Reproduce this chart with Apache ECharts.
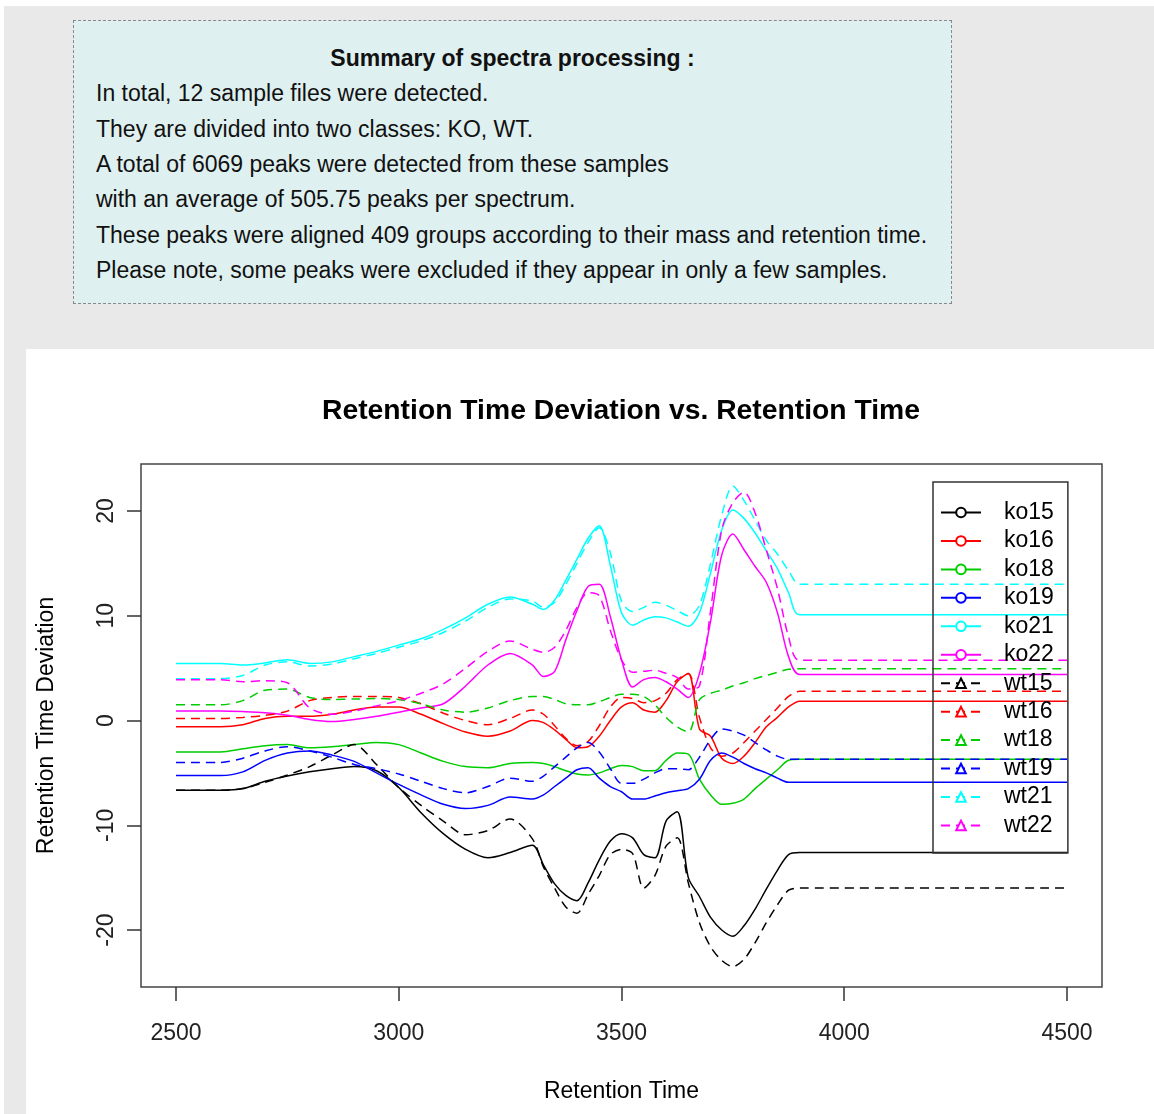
<!DOCTYPE html>
<html><head><meta charset="utf-8">
<script src="https://cdn.jsdelivr.net/npm/echarts@6/dist/echarts.min.js"></script>
<style>
html,body{margin:0;padding:0;background:#fff;width:1154px;height:1114px;overflow:hidden;font-family:'Liberation Sans',Arial,sans-serif;}
#bg{position:absolute;left:4px;top:6px;width:1150px;height:1108px;background:#e9e9e9;}
#summary{position:absolute;left:73px;top:20px;width:877px;height:282px;background:#dff0f0;border:1px dashed #888;box-sizing:content-box;}
#summary .t{position:absolute;left:0;width:100%;text-align:center;font-weight:bold;font-size:23px;color:#111;}
#summary .l{position:absolute;left:22px;font-size:23px;color:#111;white-space:nowrap;}
#chart{position:absolute;left:26px;top:349px;width:1128px;height:765px;background:#fff;}
</style></head>
<body>
<div id="bg"></div>
<div id="summary"></div>
<div id="chart"></div>
<script>
const SUMMARY_TITLE = 'Summary of spectra processing :';
const SUMMARY_LINES = [
  'In total, 12 sample files were detected.',
  'They are divided into two classes: KO, WT.',
  'A total of 6069 peaks were detected from these samples',
  'with an average of 505.75 peaks per spectrum.',
  'These peaks were aligned 409 groups according to their mass and retention time.',
  'Please note, some peaks were excluded if they appear in only a few samples.'
];

const RT = [2500,2550,2600,2650,2700,2750,2800,2850,2900,2950,3000,3050,3100,3150,3200,3250,3300,
  3325,3350,3375,3400,3425,3450,3475,3500,3525,3550,3575,3600,3625,3650,3675,3700,3725,3750,3775,3800,3825,3850,3875,3900,
  4500];

const ko15 = [-6.65,-6.65,-6.65,-6.5,-5.8,-5.3,-4.9,-4.6,-4.4,-4.8,-6.4,-8.8,-10.8,-12.3,-13.1,-12.6,-11.9,
  -13.8,-15.6,-16.7,-17.2,-15.5,-13.3,-11.5,-10.8,-11.2,-12.8,-13.1,-9.6,-8.7,-15.0,-16.8,-18.8,-20.0,-20.6,-19.6,-18.0,-16.1,-14.3,-12.8,-12.6,
  -12.6];
const ko16 = [-0.6,-0.6,-0.6,-0.4,0.2,0.4,0.4,0.6,1.0,1.3,1.3,0.6,-0.3,-1.1,-1.5,-1.0,0.0,
  -0.2,-0.9,-1.8,-2.6,-2.5,-1.5,0.0,1.3,1.7,1.0,0.8,1.9,3.7,4.5,-0.8,-1.5,-3.6,-4.1,-3.4,-2.1,-0.6,0.3,1.3,1.85,
  1.85];
const ko18 = [-3.0,-3.0,-3.0,-2.7,-2.4,-2.3,-2.6,-2.5,-2.3,-2.1,-2.3,-3.1,-3.9,-4.4,-4.5,-4.1,-4.0,
  -4.1,-4.4,-4.8,-5.1,-5.2,-5.0,-4.6,-4.3,-4.4,-4.8,-4.8,-3.8,-3.1,-3.2,-5.6,-7.1,-8.0,-7.9,-7.5,-6.5,-5.6,-4.7,-3.8,-3.7,
  -3.7];
const ko19 = [-5.25,-5.25,-5.25,-4.9,-3.8,-3.1,-2.9,-3.3,-3.9,-5.0,-6.1,-7.1,-8.0,-8.4,-8.1,-7.3,-7.5,
  -7.1,-6.3,-5.5,-4.7,-4.5,-5.5,-6.3,-6.8,-7.5,-7.5,-7.2,-6.9,-6.7,-6.5,-5.6,-3.8,-3.1,-3.5,-4.1,-4.6,-5.0,-5.5,-5.9,-5.9,
  -5.9];
const ko21 = [5.45,5.45,5.45,5.3,5.5,5.8,5.45,5.6,6.1,6.6,7.2,7.8,8.7,9.8,11.1,11.8,11.1,
  10.6,11.5,13.4,15.4,17.4,18.6,14.8,10.3,9.1,9.6,9.9,9.8,9.4,9.0,10.3,14.1,18.2,20.1,19.3,17.9,16.2,14.5,12.2,10.1,
  10.1];
const ko22 = [0.9,0.9,0.9,0.85,0.75,0.5,0.1,-0.1,0.1,0.4,0.8,1.2,1.6,3.3,5.3,6.4,5.3,
  4.2,4.7,7.7,10.5,12.8,13.0,9.9,5.8,3.2,3.9,4.1,3.7,3.0,2.2,4.5,9.5,15.8,17.8,16.3,14.7,13.2,10.3,6.1,4.4,
  4.4];
const wt15 = [-6.65,-6.65,-6.65,-6.5,-5.9,-5.2,-4.4,-3.3,-2.3,-4.2,-6.4,-8.1,-9.6,-10.9,-10.5,-9.4,-11.3,
  -14.0,-16.0,-17.8,-18.4,-16.6,-14.8,-12.8,-12.3,-12.7,-16.0,-14.8,-12.0,-11.2,-15.5,-19.3,-21.6,-22.9,-23.5,-22.8,-21.2,-19.3,-17.6,-16.2,-16.0,
  -16.0];
const wt16 = [0.2,0.2,0.2,0.3,0.5,0.9,1.9,2.2,2.3,2.3,2.2,1.6,0.7,0.0,-0.4,0.2,1.0,
  0.6,-0.5,-1.7,-2.4,-2.0,-0.5,1.3,2.2,2.1,1.7,1.9,2.6,3.9,4.5,0.3,-2.6,-3.4,-3.1,-2.1,-1.0,0.1,1.2,2.3,2.8,
  2.8];
const wt18 = [1.5,1.5,1.5,1.9,2.9,3.0,2.2,2.0,2.05,2.1,2.0,1.6,1.0,0.8,1.2,1.9,2.3,
  2.3,2.0,1.6,1.5,1.5,1.8,2.2,2.5,2.5,2.3,1.5,0.3,-0.6,-1.1,2.0,2.6,2.9,3.3,3.6,4.0,4.3,4.6,4.9,4.95,
  4.95];
const wt19 = [-4.0,-4.0,-4.0,-3.6,-2.9,-2.5,-2.9,-3.5,-4.2,-4.6,-5.1,-5.8,-6.5,-6.9,-6.3,-5.5,-5.8,
  -5.3,-4.4,-3.5,-2.6,-2.1,-3.0,-4.6,-6.0,-6.0,-5.6,-5.0,-4.6,-4.6,-4.7,-3.5,-1.8,-0.8,-1.0,-1.4,-2.1,-2.8,-3.4,-3.7,-3.7,
  -3.7];
const wt21 = [4.0,4.0,4.0,4.3,5.3,5.6,5.2,5.4,5.9,6.4,7.0,7.6,8.4,9.5,10.8,11.6,11.4,
  10.8,11.3,13.0,15.0,17.0,18.4,16.0,11.4,10.4,10.8,11.3,11.0,10.5,10.0,11.0,15.0,19.6,22.4,21.0,19.1,17.2,15.9,14.3,13.0,
  13.0];
const wt22 = [3.9,3.9,3.9,3.7,3.8,3.6,1.2,0.6,0.9,1.4,1.9,2.6,3.5,5.0,6.6,7.6,6.8,
  6.5,7.0,8.6,10.8,12.2,11.9,8.6,5.8,4.6,4.7,4.8,4.5,4.1,3.0,3.3,10.5,18.2,20.8,21.8,19.8,16.3,12.6,8.0,5.75,
  5.75];

const SAMPLE_NAMES = ['ko15','ko16','ko18','ko19','ko21','ko22','wt15','wt16','wt18','wt19','wt21','wt22'];
const SAMPLE_VALUES = [ko15,ko16,ko18,ko19,ko21,ko22,wt15,wt16,wt18,wt19,wt21,wt22];
const COLORS = ['#000000','#ff0000','#00cd00','#0000ff','#00ffff','#ff00ff'];
const X_TICKS = [2500,3000,3500,4000,4500];
const Y_TICKS = [-20,-10,0,10,20];

// summary box
const sb = document.getElementById('summary');
const t = document.createElement('div'); t.className='t'; t.textContent=SUMMARY_TITLE;
t.style.top = (37-13)+'px'; sb.appendChild(t);
SUMMARY_LINES.forEach((s,i)=>{ const d=document.createElement('div'); d.className='l'; d.textContent=s;
  d.style.top=(37+35.3*(i+1)-13)+'px'; sb.appendChild(d); });

const FONT = "'Liberation Sans', Arial, sans-serif";
const series = SAMPLE_NAMES.map((name,i)=>{
  const isWt = name.indexOf('wt')===0;
  const c = COLORS[i%6];
  return {
    name, type:'line', data: RT.map((x,j)=>[x, SAMPLE_VALUES[i][j]]),
    symbol: isWt ? 'emptyTriangle' : 'emptyCircle', showSymbol:false, smooth:0.3,
    lineStyle:{color:c, width:1.5, type: isWt ? [9,6] : 'solid'},
    itemStyle:{color:c}, emphasis:{disabled:true}, silent:true
  };
});

const chart = echarts.init(document.getElementById('chart'), null, {renderer:'canvas'});
chart.setOption({
  animation:false,
  backgroundColor:'#fff',
  title:{text:'Retention Time Deviation vs. Retention Time', left:291, top:43,
    textStyle:{fontSize:28.3, fontWeight:'bold', color:'#000', fontFamily:FONT}},
  grid:{left:115, top:115, width:961, height:523, show:true, borderColor:'#444', borderWidth:1.5,
    backgroundColor:'transparent', outerBoundsMode:'none', containLabel:false},
  legend:{orient:'vertical', left:907, top:133, itemWidth:40, itemHeight:12, itemGap:5.45,
    padding:[19,14,16,7], borderColor:'#333', borderWidth:1.5, selectedMode:false,
    textStyle:{fontSize:23, color:'#000', lineHeight:22, padding:[0,0,0,18], fontFamily:FONT},
    data: SAMPLE_NAMES},
  xAxis:{type:'value', min:2421.4, max:4578.6, name:'Retention Time', nameLocation:'middle', nameGap:93,
    nameTextStyle:{fontSize:23, color:'#000', fontFamily:FONT},
    axisLine:{show:false, onZero:false}, splitLine:{show:false},
    axisTick:{show:true, length:14, lineStyle:{color:'#333', width:1.5}, customValues:X_TICKS},
    axisLabel:{customValues:X_TICKS, margin:35, fontSize:23, color:'#222', fontFamily:FONT, formatter:(v)=>String(v)}},
  yAxis:{type:'value', min:-25.44, max:24.49, name:'Retention Time Deviation', nameLocation:'middle', nameGap:83,
    nameTextStyle:{fontSize:23, color:'#000', fontFamily:FONT},
    axisLine:{show:false, onZero:false}, splitLine:{show:false},
    axisTick:{show:true, length:14, lineStyle:{color:'#333', width:1.5}, customValues:Y_TICKS},
    axisLabel:{customValues:Y_TICKS, margin:23, rotate:90, fontSize:23, color:'#222', fontFamily:FONT, formatter:(v)=>String(v)}},
  series
});
</script>
</body></html>
